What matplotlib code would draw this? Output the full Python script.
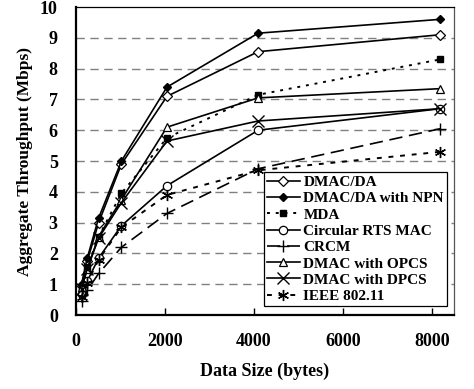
import matplotlib
matplotlib.use("Agg")
import matplotlib.pyplot as plt

data_size = [128, 256, 512, 1024, 2048, 4096, 8192]
dmac_da = [0.95, 1.75, 3.0, 4.9, 7.1, 8.55, 9.1]
dmac_da_npn = [1.0, 1.85, 3.15, 5.0, 7.4, 9.15, 9.6]
mda = [0.9, 1.55, 2.55, 3.95, 5.75, 7.15, 8.3]
circular_rts = [0.7, 1.1, 1.85, 2.9, 4.2, 6.0, 6.7]
crcm = [0.45, 0.8, 1.35, 2.2, 3.3, 4.75, 6.05]
dmac_opcs = [0.9, 1.5, 2.55, 3.75, 6.1, 7.05, 7.35]
dmac_dpcs = [0.85, 1.5, 2.5, 3.65, 5.65, 6.3, 6.7]
ieee80211 = [0.6, 1.05, 1.8, 2.85, 3.9, 4.7, 5.3]

plt.rcParams['font.family'] = ['Liberation Serif', 'DejaVu Serif']
plt.rcParams['font.weight'] = 'bold'

fig = plt.figure(figsize=(4.74, 3.89), dpi=100)
ax = fig.add_axes([0.160, 0.190, 0.798, 0.792])

lw = 1.2
ax.plot(data_size, dmac_da, color='black', lw=lw, marker='D', ms=5.5, mfc='white', mec='black', mew=0.9, label='DMAC/DA', zorder=5)
ax.plot(data_size, dmac_da_npn, color='black', lw=lw, marker='D', ms=4.5, mfc='black', mec='black', label='DMAC/DA with NPN', zorder=5)
ax.plot(data_size, mda, color='black', lw=1.4, ls=(0, (1.5, 3)), marker='s', ms=5, mfc='black', mec='black', label='MDA', zorder=5)
ax.plot(data_size, circular_rts, color='black', lw=lw, marker='o', ms=6, mfc='white', mec='black', mew=0.9, label='Circular RTS MAC', zorder=5)
ax.plot(data_size, crcm, color='black', lw=lw, ls=(0, (8, 4)), marker='+', ms=9, mew=1.0, label='CRCM', zorder=5)
ax.plot(data_size, dmac_opcs, color='black', lw=lw, marker='^', ms=6, mfc='white', mec='black', mew=0.9, label='DMAC with OPCS', zorder=5)
ax.plot(data_size, dmac_dpcs, color='black', lw=lw, marker='x', ms=8, mew=1.0, label='DMAC with DPCS', zorder=5)
ax.plot(data_size, ieee80211, color='black', lw=1.4, ls=(0, (2.5, 3.5)), marker=(6, 2, 0), ms=8, mew=1.0, label='IEEE 802.11', zorder=5)

ax.set_xlim(0, 8500)
ax.set_ylim(0, 10)
ax.set_xticks([0, 2000, 4000, 6000, 8000])
ax.set_yticks(range(0, 11))
for y in range(1, 10):
    ax.axhline(y, color='#808080', lw=1.0, ls=(0, (6, 4)), zorder=1)

ax.tick_params(axis='x', direction='in', length=5, width=1, labelsize=13, pad=13)
ax.tick_params(axis='y', length=0, labelsize=13, pad=13)
for lab in ax.get_xticklabels() + ax.get_yticklabels():
    lab.set_fontweight('bold')

ax.spines['left'].set_linewidth(1.6)
ax.spines['bottom'].set_linewidth(1.6)
ax.spines['top'].set_linewidth(0.9)
ax.spines['right'].set_linewidth(0.9)
ax.spines['right'].set_color('#555555')

ax.set_xlabel('Data Size (bytes)', fontsize=13, fontweight='bold', labelpad=9)
ax.set_ylabel('Aggregate Throughput (Mbps)', fontsize=12.5, fontweight='bold', labelpad=5)

leg = ax.legend(loc='lower right', bbox_to_anchor=(0.981, 0.029),
                prop={'weight': 'bold', 'size': 11}, frameon=True, fancybox=False,
                edgecolor='black', framealpha=1, borderpad=0.2, labelspacing=0.17,
                handlelength=2.2, handletextpad=0.2, borderaxespad=0)
leg.get_frame().set_linewidth(0.9)

fig.savefig('out.png', dpi=100)
